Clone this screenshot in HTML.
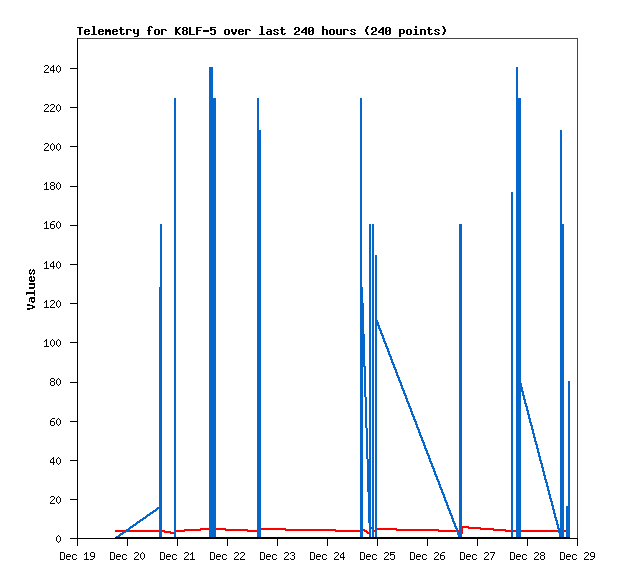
<!DOCTYPE html>
<html><head><meta charset="utf-8"><title>Telemetry for K8LF-5</title><style>html,body{margin:0;padding:0;background:#fff;font-family:"Liberation Sans",sans-serif}svg{display:block}</style></head><body><svg width="618" height="579" viewBox="0 0 618 579" shape-rendering="crispEdges"><rect width="618" height="579" fill="#fff"/><path fill="#ff0000" d="M462 526h7v1h-7zM462 527h19v1h-19zM200 528h26v1h-26zM259 528h27v1h-27zM371 527h1v2h-1zM377 528h20v1h-20zM468 528h26v1h-26zM184 529h64v1h-64zM259 529h77v1h-77zM363 529h2v1h-2zM377 529h62v1h-62zM480 529h26v1h-26zM115 530h50v1h-50zM176 530h25v1h-25zM225 530h34v1h-34zM285 530h82v1h-82zM396 530h64v1h-64zM493 530h73v1h-73zM115 531h56v1h-56zM176 531h9v1h-9zM247 531h12v1h-12zM335 531h28v1h-28zM364 531h4v1h-4zM374 530h1v2h-1zM438 531h22v1h-22zM505 531h61v1h-61zM164 532h12v1h-12zM366 532h3v1h-3zM170 533h6v1h-6zM367 533h2v1h-2zM462 528h1v6h-1z"/><path fill="#0566cc" d="M209 67h4v31h-4zM516 67h2v31h-2zM257 98h2v32h-2zM560 130h2v94h-2zM160 224h2v63h-2zM360 98h2v189h-2zM360 287h3v16h-3zM375 255h2v65h-2zM375 320h3v2h-3zM375 322h4v3h-4zM375 325h5v1h-5zM378 326h2v2h-2zM378 328h3v1h-3zM379 329h2v1h-2zM379 330h3v1h-3zM380 331h2v2h-2zM360 303h4v31h-4zM380 333h3v1h-3zM381 334h2v1h-2zM381 335h3v1h-3zM382 336h2v2h-2zM382 338h3v1h-3zM383 339h2v2h-2zM383 341h3v1h-3zM384 342h2v1h-2zM384 343h3v1h-3zM385 344h2v2h-2zM385 346h3v1h-3zM386 347h2v1h-2zM386 348h3v1h-3zM387 349h2v2h-2zM387 351h3v1h-3zM388 352h2v2h-2zM388 354h3v1h-3zM389 355h2v1h-2zM389 356h3v1h-3zM390 357h2v2h-2zM390 359h3v1h-3zM391 360h2v2h-2zM391 362h3v1h-3zM392 363h2v1h-2zM392 364h3v1h-3zM360 334h5v32h-5zM360 366h6v1h-6zM393 365h2v2h-2zM393 367h3v1h-3zM394 368h2v1h-2zM394 369h3v1h-3zM395 370h2v2h-2zM395 372h3v1h-3zM396 373h2v2h-2zM396 375h3v1h-3zM397 376h2v1h-2zM397 377h3v1h-3zM398 378h2v2h-2zM398 380h3v1h-3zM399 381h2v1h-2zM399 382h3v1h-3zM516 98h5v285h-5zM400 383h2v2h-2zM400 385h3v1h-3zM516 383h6v4h-6zM401 386h2v2h-2zM401 388h3v1h-3zM402 389h2v1h-2zM402 390h3v1h-3zM516 387h7v4h-7zM516 391h8v1h-8zM403 391h2v2h-2zM403 393h3v1h-3zM404 394h2v1h-2zM522 392h2v3h-2zM404 395h3v1h-3zM522 395h3v1h-3zM364 367h2v30h-2zM405 396h2v2h-2zM405 398h3v1h-3zM523 396h2v3h-2zM523 399h3v1h-3zM406 399h2v2h-2zM406 401h3v1h-3zM407 402h2v1h-2zM524 400h2v3h-2zM407 403h3v1h-3zM524 403h3v1h-3zM408 404h2v2h-2zM525 404h2v2h-2zM408 406h3v1h-3zM525 406h3v1h-3zM409 407h2v1h-2zM409 408h3v1h-3zM526 407h2v3h-2zM410 409h2v2h-2zM526 410h3v1h-3zM410 411h3v1h-3zM411 412h2v2h-2zM527 411h2v3h-2zM411 414h3v1h-3zM527 414h3v1h-3zM412 415h2v1h-2zM412 416h3v1h-3zM528 415h2v3h-2zM413 417h2v2h-2zM528 418h3v1h-3zM413 419h3v1h-3zM414 420h2v1h-2zM414 421h3v1h-3zM529 419h2v3h-2zM529 422h3v1h-3zM415 422h2v2h-2zM415 424h3v1h-3zM530 423h2v2h-2zM530 425h3v1h-3zM416 425h2v2h-2zM365 397h2v31h-2zM416 427h3v1h-3zM417 428h2v1h-2zM531 426h2v3h-2zM417 429h3v1h-3zM531 429h3v1h-3zM418 430h2v2h-2zM418 432h3v1h-3zM532 430h2v3h-2zM532 433h3v1h-3zM419 433h2v2h-2zM419 435h3v1h-3zM420 436h2v1h-2zM533 434h2v3h-2zM420 437h3v1h-3zM533 437h3v1h-3zM421 438h2v2h-2zM421 440h3v1h-3zM534 438h2v3h-2zM422 441h2v1h-2zM534 441h3v1h-3zM422 442h3v1h-3zM535 442h2v2h-2zM423 443h2v2h-2zM535 444h3v1h-3zM423 445h3v1h-3zM424 446h2v2h-2zM536 445h2v3h-2zM424 448h3v1h-3zM536 448h3v1h-3zM425 449h2v1h-2zM425 450h3v1h-3zM537 449h2v3h-2zM426 451h2v2h-2zM537 452h3v1h-3zM426 453h3v1h-3zM427 454h2v1h-2zM427 455h3v1h-3zM538 453h2v3h-2zM538 456h3v1h-3zM428 456h2v2h-2zM366 428h2v31h-2zM369 224h2v235h-2zM428 458h3v1h-3zM539 457h2v3h-2zM429 459h2v2h-2zM539 460h3v1h-3zM429 461h3v1h-3zM430 462h2v1h-2zM540 461h2v2h-2zM430 463h3v1h-3zM540 463h3v1h-3zM431 464h2v2h-2zM431 466h3v1h-3zM541 464h2v3h-2zM432 467h2v1h-2zM541 467h3v1h-3zM432 468h3v1h-3zM433 469h2v2h-2zM542 468h2v3h-2zM433 471h3v1h-3zM542 471h3v1h-3zM434 472h2v2h-2zM434 474h3v1h-3zM543 472h2v3h-2zM435 475h2v1h-2zM543 475h3v1h-3zM435 476h3v1h-3zM436 477h2v2h-2zM544 476h2v3h-2zM436 479h3v1h-3zM544 479h3v1h-3zM437 480h2v1h-2zM437 481h3v1h-3zM545 480h2v2h-2zM545 482h3v1h-3zM438 482h2v2h-2zM438 484h3v1h-3zM546 483h2v3h-2zM439 485h2v2h-2zM546 486h3v1h-3zM439 487h3v1h-3zM440 488h2v1h-2zM440 489h3v1h-3zM547 487h2v3h-2zM547 490h3v1h-3zM367 459h4v33h-4zM441 490h2v2h-2zM441 492h3v1h-3zM442 493h2v1h-2zM548 491h2v3h-2zM442 494h3v1h-3zM548 494h3v1h-3zM443 495h2v2h-2zM443 497h3v1h-3zM549 495h2v3h-2zM549 498h3v1h-3zM444 498h2v2h-2zM444 500h3v1h-3zM550 499h2v2h-2zM445 501h2v1h-2zM550 501h3v1h-3zM445 502h3v1h-3zM446 503h2v2h-2zM551 502h2v3h-2zM446 505h3v1h-3zM551 505h3v1h-3zM568 381h2v125h-2zM159 287h3v220h-3zM157 507h5v1h-5zM447 506h2v2h-2zM156 508h6v1h-6zM447 508h3v1h-3zM552 506h2v3h-2zM155 509h3v1h-3zM448 509h2v1h-2zM552 509h3v1h-3zM153 510h4v1h-4zM448 510h3v1h-3zM152 511h4v1h-4zM150 512h4v1h-4zM449 511h2v2h-2zM553 510h2v3h-2zM149 513h4v1h-4zM449 513h3v1h-3zM553 513h3v1h-3zM147 514h4v1h-4zM450 514h2v1h-2zM146 515h4v1h-4zM450 515h3v1h-3zM145 516h3v1h-3zM554 514h2v3h-2zM143 517h4v1h-4zM451 516h2v2h-2zM554 517h3v1h-3zM142 518h4v1h-4zM451 518h3v1h-3zM140 519h4v1h-4zM555 518h2v2h-2zM139 520h4v1h-4zM452 519h2v2h-2zM555 520h3v1h-3zM137 521h4v1h-4zM452 521h3v1h-3zM136 522h4v1h-4zM368 492h3v31h-3zM453 522h2v1h-2zM135 523h3v1h-3zM453 523h3v1h-3zM556 521h2v3h-2zM133 524h4v1h-4zM556 524h3v1h-3zM132 525h4v1h-4zM454 524h2v2h-2zM130 526h4v1h-4zM454 526h3v1h-3zM129 527h4v1h-4zM455 527h2v1h-2zM557 525h2v3h-2zM560 224h4v304h-4zM128 528h3v1h-3zM455 528h3v1h-3zM557 528h7v1h-7zM126 529h4v1h-4zM125 530h4v1h-4zM456 529h2v2h-2zM459 224h3v307h-3zM123 531h4v1h-4zM456 531h6v1h-6zM122 532h4v1h-4zM558 529h6v4h-6zM120 533h4v1h-4zM119 534h4v1h-4zM457 532h5v3h-5zM118 535h3v1h-3zM116 536h4v1h-4zM159 509h3v28h-3zM174 98h2v439h-2zM209 98h7v439h-7zM257 130h4v407h-4zM360 367h3v170h-3zM369 523h2v14h-2zM372 224h2v313h-2zM375 326h2v211h-2zM458 535h4v2h-4zM511 192h2v345h-2zM516 392h5v145h-5zM559 533h5v4h-5zM566 506h4v31h-4z"/><path fill="#000000" d="M115 537h455v2h-455z"/><path fill="#444444" d="M78 38h500v1h-500zM577 39h1v500h-1z"/><path fill="#000000" d="M77 38h1v30h-1zM70 68h8v1h-8zM77 69h1v38h-1zM70 107h8v1h-8zM77 108h1v38h-1zM70 146h8v1h-8zM77 147h1v39h-1zM70 186h8v1h-8zM77 187h1v38h-1zM70 225h8v1h-8zM77 226h1v38h-1zM70 264h8v1h-8zM77 265h1v38h-1zM70 303h8v1h-8zM77 304h1v38h-1zM70 342h8v1h-8zM77 343h1v39h-1zM70 382h8v1h-8zM77 383h1v38h-1zM70 421h8v1h-8zM77 422h1v38h-1zM70 460h8v1h-8zM77 461h1v38h-1zM70 499h8v1h-8zM77 500h1v38h-1zM70 538h508v1h-508zM77 539h1v7h-1zM127 539h1v7h-1zM177 539h1v7h-1zM227 539h1v7h-1zM277 539h1v7h-1zM327 539h1v7h-1zM377 539h1v7h-1zM427 539h1v7h-1zM477 539h1v7h-1zM527 539h1v7h-1zM577 539h1v7h-1z"/><path fill="#000000" d="M92 26h3v1h-3zM149 26h3v1h-3zM260 26h3v1h-3zM367 26h2v1h-2zM442 26h2v1h-2zM77 27h6v1h-6zM151 27h2v1h-2zM179 27h2v1h-2zM183 27h4v1h-4zM196 27h6v1h-6zM210 27h6v1h-6zM295 27h4v1h-4zM305 27h2v1h-2zM309 27h4v1h-4zM372 27h4v1h-4zM382 27h2v1h-2zM386 27h4v1h-4zM415 26h2v2h-2zM120 27h2v2h-2zM175 27h2v2h-2zM178 28h2v1h-2zM210 28h2v1h-2zM281 27h2v2h-2zM304 28h3v1h-3zM322 26h2v3h-2zM366 27h2v2h-2zM381 28h3v1h-3zM428 27h2v2h-2zM443 27h2v2h-2zM85 29h4v1h-4zM99 29h4v1h-4zM105 29h2v1h-2zM108 29h2v1h-2zM113 29h4v1h-4zM119 29h5v1h-5zM126 29h5v1h-5zM148 27h2v3h-2zM155 29h4v1h-4zM161 29h5v1h-5zM175 29h4v1h-4zM182 28h2v2h-2zM186 28h2v2h-2zM196 28h2v2h-2zM210 29h5v1h-5zM225 29h4v1h-4zM239 29h4v1h-4zM245 29h5v1h-5zM267 29h4v1h-4zM274 29h4v1h-4zM280 29h5v1h-5zM294 28h2v2h-2zM303 29h4v1h-4zM312 28h2v2h-2zM322 29h5v1h-5zM330 29h4v1h-4zM343 29h5v1h-5zM351 29h4v1h-4zM371 28h2v2h-2zM380 29h4v1h-4zM389 28h2v2h-2zM399 29h5v1h-5zM407 29h4v1h-4zM414 29h3v1h-3zM420 29h5v1h-5zM427 29h5v1h-5zM435 29h4v1h-4zM84 30h2v1h-2zM88 30h2v1h-2zM98 30h2v1h-2zM102 30h2v1h-2zM112 30h2v1h-2zM116 30h2v1h-2zM130 30h2v1h-2zM147 30h4v1h-4zM165 30h2v1h-2zM183 30h4v1h-4zM196 30h5v1h-5zM210 30h2v1h-2zM238 30h2v1h-2zM242 30h2v1h-2zM249 30h2v1h-2zM270 30h2v1h-2zM273 30h2v1h-2zM277 30h2v1h-2zM298 28h2v3h-2zM302 30h2v1h-2zM308 28h2v3h-2zM311 30h3v1h-3zM347 30h2v1h-2zM350 30h2v1h-2zM354 30h2v1h-2zM375 28h2v3h-2zM379 30h2v1h-2zM385 28h2v3h-2zM388 30h3v1h-3zM434 30h2v1h-2zM438 30h2v1h-2zM84 31h6v1h-6zM98 31h6v1h-6zM105 30h6v2h-6zM112 31h6v1h-6zM175 30h3v2h-3zM203 30h6v2h-6zM231 29h2v3h-2zM235 29h2v3h-2zM238 31h6v1h-6zM267 31h5v1h-5zM274 31h2v1h-2zM296 31h3v1h-3zM301 31h2v1h-2zM305 30h2v2h-2zM308 31h3v1h-3zM351 31h2v1h-2zM365 29h2v3h-2zM373 31h3v1h-3zM378 31h2v1h-2zM382 30h2v2h-2zM385 31h3v1h-3zM435 31h2v1h-2zM444 29h2v3h-2zM133 29h2v4h-2zM137 29h2v4h-2zM175 32h4v1h-4zM276 32h2v1h-2zM295 32h2v1h-2zM301 32h6v1h-6zM353 32h2v1h-2zM372 32h2v1h-2zM378 32h6v1h-6zM399 30h2v3h-2zM403 30h2v3h-2zM437 32h2v1h-2zM84 32h2v2h-2zM88 33h2v1h-2zM93 27h2v7h-2zM98 32h2v2h-2zM102 33h2v1h-2zM112 32h2v2h-2zM116 33h2v1h-2zM120 30h2v4h-2zM123 33h2v1h-2zM134 33h5v1h-5zM154 30h2v4h-2zM158 30h2v4h-2zM178 33h2v1h-2zM182 31h2v3h-2zM186 31h2v3h-2zM189 27h2v7h-2zM210 33h2v1h-2zM214 30h2v4h-2zM224 30h2v4h-2zM228 30h2v4h-2zM232 32h4v2h-4zM238 32h2v2h-2zM242 33h2v1h-2zM261 27h2v7h-2zM266 32h2v2h-2zM270 32h2v2h-2zM273 33h2v1h-2zM277 33h2v1h-2zM281 30h2v4h-2zM284 33h2v1h-2zM294 33h2v1h-2zM308 32h2v2h-2zM312 31h2v3h-2zM329 30h2v4h-2zM333 30h2v4h-2zM336 29h2v5h-2zM340 29h2v5h-2zM350 33h2v1h-2zM354 33h2v1h-2zM366 32h2v2h-2zM371 33h2v1h-2zM385 32h2v2h-2zM389 31h2v3h-2zM399 33h5v1h-5zM406 30h2v4h-2zM410 30h2v4h-2zM415 30h2v4h-2zM428 30h2v4h-2zM431 33h2v1h-2zM434 33h2v1h-2zM438 33h2v1h-2zM443 32h2v2h-2zM79 28h2v7h-2zM85 34h4v1h-4zM91 34h6v1h-6zM99 34h4v1h-4zM105 32h2v3h-2zM109 32h2v3h-2zM113 34h4v1h-4zM121 34h3v1h-3zM126 30h2v5h-2zM148 31h2v4h-2zM155 34h4v1h-4zM161 30h2v5h-2zM175 33h2v2h-2zM179 34h2v1h-2zM183 34h4v1h-4zM189 34h6v1h-6zM196 31h2v4h-2zM211 34h4v1h-4zM225 34h4v1h-4zM233 34h2v1h-2zM239 34h4v1h-4zM245 30h2v5h-2zM259 34h6v1h-6zM267 34h5v1h-5zM274 34h4v1h-4zM282 34h3v1h-3zM294 34h6v1h-6zM305 33h2v2h-2zM309 34h4v1h-4zM322 30h2v5h-2zM326 30h2v5h-2zM330 34h4v1h-4zM337 34h5v1h-5zM343 30h2v5h-2zM351 34h4v1h-4zM367 34h2v1h-2zM371 34h6v1h-6zM382 33h2v2h-2zM386 34h4v1h-4zM407 34h4v1h-4zM413 34h6v1h-6zM420 30h2v5h-2zM424 30h2v5h-2zM429 34h3v1h-3zM435 34h4v1h-4zM442 34h2v1h-2zM137 34h2v2h-2zM134 36h4v1h-4zM399 34h2v3h-2zM45 65h3v1h-3zM53 65h1v1h-1zM58 65h1v1h-1zM44 66h1v1h-1zM52 66h2v1h-2zM57 66h1v1h-1zM59 66h1v1h-1zM48 66h1v2h-1zM51 67h1v1h-1zM47 68h1v1h-1zM46 69h1v1h-1zM50 68h1v2h-1zM53 67h1v3h-1zM45 70h1v1h-1zM50 70h5v1h-5zM56 67h1v4h-1zM60 67h1v4h-1zM44 71h1v1h-1zM57 71h1v1h-1zM59 71h1v1h-1zM44 72h5v1h-5zM53 71h1v2h-1zM58 72h1v1h-1zM45 104h3v1h-3zM51 104h3v1h-3zM58 104h1v1h-1zM44 105h1v1h-1zM50 105h1v1h-1zM57 105h1v1h-1zM59 105h1v1h-1zM48 105h1v2h-1zM54 105h1v2h-1zM47 107h1v1h-1zM53 107h1v1h-1zM46 108h1v1h-1zM52 108h1v1h-1zM45 109h1v1h-1zM51 109h1v1h-1zM56 106h1v4h-1zM60 106h1v4h-1zM44 110h1v1h-1zM50 110h1v1h-1zM57 110h1v1h-1zM59 110h1v1h-1zM44 111h5v1h-5zM50 111h5v1h-5zM58 111h1v1h-1zM45 143h3v1h-3zM52 143h1v1h-1zM58 143h1v1h-1zM44 144h1v1h-1zM51 144h1v1h-1zM53 144h1v1h-1zM57 144h1v1h-1zM59 144h1v1h-1zM48 144h1v2h-1zM47 146h1v1h-1zM46 147h1v1h-1zM45 148h1v1h-1zM50 145h1v4h-1zM54 145h1v4h-1zM56 145h1v4h-1zM60 145h1v4h-1zM44 149h1v1h-1zM51 149h1v1h-1zM53 149h1v1h-1zM57 149h1v1h-1zM59 149h1v1h-1zM44 150h5v1h-5zM52 150h1v1h-1zM58 150h1v1h-1zM46 182h1v1h-1zM51 182h3v1h-3zM58 182h1v1h-1zM45 183h2v1h-2zM57 183h1v1h-1zM59 183h1v1h-1zM44 184h1v1h-1zM50 183h1v2h-1zM54 183h1v2h-1zM51 185h3v1h-3zM56 184h1v4h-1zM60 184h1v4h-1zM46 184h1v5h-1zM50 186h1v3h-1zM54 186h1v3h-1zM57 188h1v1h-1zM59 188h1v1h-1zM44 189h5v1h-5zM51 189h3v1h-3zM58 189h1v1h-1zM46 221h1v1h-1zM52 221h3v1h-3zM58 221h1v1h-1zM45 222h2v1h-2zM51 222h1v1h-1zM57 222h1v1h-1zM59 222h1v1h-1zM44 223h1v1h-1zM50 223h1v1h-1zM50 224h4v1h-4zM56 223h1v4h-1zM60 223h1v4h-1zM46 223h1v5h-1zM50 225h1v3h-1zM54 225h1v3h-1zM57 227h1v1h-1zM59 227h1v1h-1zM44 228h5v1h-5zM51 228h3v1h-3zM58 228h1v1h-1zM46 261h1v1h-1zM53 261h1v1h-1zM58 261h1v1h-1zM45 262h2v1h-2zM52 262h2v1h-2zM57 262h1v1h-1zM59 262h1v1h-1zM44 263h1v1h-1zM51 263h1v1h-1zM50 264h1v2h-1zM53 263h1v3h-1zM50 266h5v1h-5zM56 263h1v4h-1zM60 263h1v4h-1zM46 263h1v5h-1zM57 267h1v1h-1zM59 267h1v1h-1zM44 268h5v1h-5zM53 267h1v2h-1zM58 268h1v1h-1zM30 269h1v1h-1zM33 269h1v1h-1zM29 270h2v1h-2zM32 270h3v1h-3zM32 271h1v1h-1zM29 271h1v2h-1zM31 272h1v1h-1zM34 271h1v2h-1zM29 273h3v1h-3zM33 273h2v1h-2zM30 274h1v1h-1zM33 274h1v1h-1zM30 276h2v1h-2zM33 276h1v1h-1zM29 277h3v1h-3zM33 277h2v1h-2zM29 278h1v2h-1zM31 278h1v2h-1zM34 278h1v2h-1zM29 280h6v1h-6zM30 281h4v1h-4zM29 283h6v2h-6zM34 285h1v2h-1zM29 287h6v1h-6zM29 288h5v1h-5zM34 290h1v2h-1zM26 292h9v2h-9zM26 294h1v1h-1zM34 294h1v2h-1zM30 297h5v1h-5zM29 298h6v1h-6zM31 299h1v2h-1zM34 299h1v2h-1zM46 300h1v1h-1zM51 300h3v1h-3zM58 300h1v1h-1zM29 299h1v3h-1zM31 301h4v1h-4zM45 301h2v1h-2zM50 301h1v1h-1zM57 301h1v1h-1zM59 301h1v1h-1zM32 302h2v1h-2zM44 302h1v1h-1zM54 301h1v2h-1zM53 303h1v1h-1zM27 304h3v1h-3zM52 304h1v1h-1zM27 305h6v1h-6zM51 305h1v1h-1zM56 302h1v4h-1zM60 302h1v4h-1zM46 302h1v5h-1zM50 306h1v1h-1zM57 306h1v1h-1zM59 306h1v1h-1zM32 306h3v2h-3zM44 307h5v1h-5zM50 307h5v1h-5zM58 307h1v1h-1zM27 308h6v1h-6zM27 309h3v1h-3zM46 339h1v1h-1zM52 339h1v1h-1zM58 339h1v1h-1zM45 340h2v1h-2zM51 340h1v1h-1zM53 340h1v1h-1zM57 340h1v1h-1zM59 340h1v1h-1zM44 341h1v1h-1zM50 341h1v4h-1zM54 341h1v4h-1zM56 341h1v4h-1zM60 341h1v4h-1zM46 341h1v5h-1zM51 345h1v1h-1zM53 345h1v1h-1zM57 345h1v1h-1zM59 345h1v1h-1zM44 346h5v1h-5zM52 346h1v1h-1zM58 346h1v1h-1zM51 378h3v1h-3zM58 378h1v1h-1zM57 379h1v1h-1zM59 379h1v1h-1zM50 379h1v2h-1zM54 379h1v2h-1zM51 381h3v1h-3zM56 380h1v4h-1zM60 380h1v4h-1zM50 382h1v3h-1zM54 382h1v3h-1zM57 384h1v1h-1zM59 384h1v1h-1zM51 385h3v1h-3zM58 385h1v1h-1zM52 418h3v1h-3zM58 418h1v1h-1zM51 419h1v1h-1zM57 419h1v1h-1zM59 419h1v1h-1zM50 420h1v1h-1zM50 421h4v1h-4zM56 420h1v4h-1zM60 420h1v4h-1zM50 422h1v3h-1zM54 422h1v3h-1zM57 424h1v1h-1zM59 424h1v1h-1zM51 425h3v1h-3zM58 425h1v1h-1zM53 457h1v1h-1zM58 457h1v1h-1zM52 458h2v1h-2zM57 458h1v1h-1zM59 458h1v1h-1zM51 459h1v1h-1zM50 460h1v2h-1zM53 459h1v3h-1zM50 462h5v1h-5zM56 459h1v4h-1zM60 459h1v4h-1zM57 463h1v1h-1zM59 463h1v1h-1zM53 463h1v2h-1zM58 464h1v1h-1zM51 496h3v1h-3zM58 496h1v1h-1zM50 497h1v1h-1zM57 497h1v1h-1zM59 497h1v1h-1zM54 497h1v2h-1zM53 499h1v1h-1zM52 500h1v1h-1zM51 501h1v1h-1zM56 498h1v4h-1zM60 498h1v4h-1zM50 502h1v1h-1zM57 502h1v1h-1zM59 502h1v1h-1zM50 503h5v1h-5zM58 503h1v1h-1zM58 535h1v1h-1zM57 536h1v1h-1zM59 536h1v1h-1zM56 537h1v4h-1zM60 537h1v4h-1zM57 541h1v1h-1zM59 541h1v1h-1zM58 542h1v1h-1zM60 552h4v1h-4zM86 552h1v1h-1zM91 552h3v1h-3zM110 552h4v1h-4zM135 552h3v1h-3zM142 552h1v1h-1zM160 552h4v1h-4zM185 552h3v1h-3zM192 552h1v1h-1zM210 552h4v1h-4zM235 552h3v1h-3zM241 552h3v1h-3zM260 552h4v1h-4zM285 552h3v1h-3zM291 552h3v1h-3zM310 552h4v1h-4zM335 552h3v1h-3zM343 552h1v1h-1zM360 552h4v1h-4zM385 552h3v1h-3zM390 552h5v1h-5zM410 552h4v1h-4zM435 552h3v1h-3zM442 552h3v1h-3zM460 552h4v1h-4zM485 552h3v1h-3zM490 552h5v1h-5zM510 552h4v1h-4zM535 552h3v1h-3zM541 552h3v1h-3zM560 552h4v1h-4zM585 552h3v1h-3zM591 552h3v1h-3zM85 553h2v1h-2zM134 553h1v1h-1zM141 553h1v1h-1zM143 553h1v1h-1zM184 553h1v1h-1zM191 553h2v1h-2zM234 553h1v1h-1zM240 553h1v1h-1zM284 553h1v1h-1zM290 553h1v1h-1zM334 553h1v1h-1zM342 553h2v1h-2zM384 553h1v1h-1zM390 553h1v1h-1zM434 553h1v1h-1zM441 553h1v1h-1zM484 553h1v1h-1zM494 553h1v1h-1zM534 553h1v1h-1zM584 553h1v1h-1zM67 554h3v1h-3zM73 554h3v1h-3zM84 554h1v1h-1zM117 554h3v1h-3zM123 554h3v1h-3zM138 553h1v2h-1zM167 554h3v1h-3zM173 554h3v1h-3zM188 553h1v2h-1zM190 554h1v1h-1zM217 554h3v1h-3zM223 554h3v1h-3zM238 553h1v2h-1zM244 553h1v2h-1zM267 554h3v1h-3zM273 554h3v1h-3zM288 553h1v2h-1zM294 553h1v2h-1zM317 554h3v1h-3zM323 554h3v1h-3zM338 553h1v2h-1zM341 554h1v1h-1zM367 554h3v1h-3zM373 554h3v1h-3zM388 553h1v2h-1zM390 554h4v1h-4zM417 554h3v1h-3zM423 554h3v1h-3zM438 553h1v2h-1zM440 554h1v1h-1zM467 554h3v1h-3zM473 554h3v1h-3zM488 553h1v2h-1zM517 554h3v1h-3zM523 554h3v1h-3zM538 553h1v2h-1zM540 553h1v2h-1zM544 553h1v2h-1zM567 554h3v1h-3zM573 554h3v1h-3zM588 553h1v2h-1zM66 555h1v1h-1zM70 555h1v1h-1zM76 555h1v1h-1zM90 553h1v3h-1zM94 553h1v3h-1zM116 555h1v1h-1zM120 555h1v1h-1zM126 555h1v1h-1zM137 555h1v1h-1zM166 555h1v1h-1zM170 555h1v1h-1zM176 555h1v1h-1zM187 555h1v1h-1zM216 555h1v1h-1zM220 555h1v1h-1zM226 555h1v1h-1zM237 555h1v1h-1zM243 555h1v1h-1zM266 555h1v1h-1zM270 555h1v1h-1zM276 555h1v1h-1zM287 555h1v1h-1zM292 555h2v1h-2zM316 555h1v1h-1zM320 555h1v1h-1zM326 555h1v1h-1zM337 555h1v1h-1zM366 555h1v1h-1zM370 555h1v1h-1zM376 555h1v1h-1zM387 555h1v1h-1zM390 555h1v1h-1zM416 555h1v1h-1zM420 555h1v1h-1zM426 555h1v1h-1zM437 555h1v1h-1zM440 555h4v1h-4zM466 555h1v1h-1zM470 555h1v1h-1zM476 555h1v1h-1zM487 555h1v1h-1zM493 554h1v2h-1zM516 555h1v1h-1zM520 555h1v1h-1zM526 555h1v1h-1zM537 555h1v1h-1zM541 555h3v1h-3zM566 555h1v1h-1zM570 555h1v1h-1zM576 555h1v1h-1zM587 555h1v1h-1zM590 553h1v3h-1zM594 553h1v3h-1zM66 556h5v1h-5zM91 556h4v1h-4zM116 556h5v1h-5zM136 556h1v1h-1zM166 556h5v1h-5zM186 556h1v1h-1zM216 556h5v1h-5zM236 556h1v1h-1zM242 556h1v1h-1zM266 556h5v1h-5zM286 556h1v1h-1zM316 556h5v1h-5zM336 556h1v1h-1zM340 555h1v2h-1zM343 554h1v3h-1zM366 556h5v1h-5zM386 556h1v1h-1zM416 556h5v1h-5zM436 556h1v1h-1zM466 556h5v1h-5zM486 556h1v1h-1zM516 556h5v1h-5zM536 556h1v1h-1zM566 556h5v1h-5zM586 556h1v1h-1zM591 556h4v1h-4zM94 557h1v1h-1zM135 557h1v1h-1zM140 554h1v4h-1zM144 554h1v4h-1zM185 557h1v1h-1zM235 557h1v1h-1zM241 557h1v1h-1zM285 557h1v1h-1zM335 557h1v1h-1zM340 557h5v1h-5zM385 557h1v1h-1zM435 557h1v1h-1zM485 557h1v1h-1zM492 556h1v2h-1zM535 557h1v1h-1zM585 557h1v1h-1zM594 557h1v1h-1zM60 553h1v6h-1zM64 553h1v6h-1zM66 557h1v2h-1zM72 555h1v4h-1zM76 558h1v1h-1zM86 554h1v5h-1zM93 558h1v1h-1zM110 553h1v6h-1zM114 553h1v6h-1zM116 557h1v2h-1zM122 555h1v4h-1zM126 558h1v1h-1zM134 558h1v1h-1zM141 558h1v1h-1zM143 558h1v1h-1zM160 553h1v6h-1zM164 553h1v6h-1zM166 557h1v2h-1zM172 555h1v4h-1zM176 558h1v1h-1zM184 558h1v1h-1zM192 554h1v5h-1zM210 553h1v6h-1zM214 553h1v6h-1zM216 557h1v2h-1zM222 555h1v4h-1zM226 558h1v1h-1zM234 558h1v1h-1zM240 558h1v1h-1zM260 553h1v6h-1zM264 553h1v6h-1zM266 557h1v2h-1zM272 555h1v4h-1zM276 558h1v1h-1zM284 558h1v1h-1zM290 558h1v1h-1zM294 556h1v3h-1zM310 553h1v6h-1zM314 553h1v6h-1zM316 557h1v2h-1zM322 555h1v4h-1zM326 558h1v1h-1zM334 558h1v1h-1zM360 553h1v6h-1zM364 553h1v6h-1zM366 557h1v2h-1zM372 555h1v4h-1zM376 558h1v1h-1zM384 558h1v1h-1zM390 558h1v1h-1zM394 555h1v4h-1zM410 553h1v6h-1zM414 553h1v6h-1zM416 557h1v2h-1zM422 555h1v4h-1zM426 558h1v1h-1zM434 558h1v1h-1zM440 556h1v3h-1zM444 556h1v3h-1zM460 553h1v6h-1zM464 553h1v6h-1zM466 557h1v2h-1zM472 555h1v4h-1zM476 558h1v1h-1zM484 558h1v1h-1zM510 553h1v6h-1zM514 553h1v6h-1zM516 557h1v2h-1zM522 555h1v4h-1zM526 558h1v1h-1zM534 558h1v1h-1zM540 556h1v3h-1zM544 556h1v3h-1zM560 553h1v6h-1zM564 553h1v6h-1zM566 557h1v2h-1zM572 555h1v4h-1zM576 558h1v1h-1zM584 558h1v1h-1zM593 558h1v1h-1zM60 559h4v1h-4zM67 559h3v1h-3zM73 559h3v1h-3zM84 559h5v1h-5zM90 559h3v1h-3zM110 559h4v1h-4zM117 559h3v1h-3zM123 559h3v1h-3zM134 559h5v1h-5zM142 559h1v1h-1zM160 559h4v1h-4zM167 559h3v1h-3zM173 559h3v1h-3zM184 559h5v1h-5zM190 559h5v1h-5zM210 559h4v1h-4zM217 559h3v1h-3zM223 559h3v1h-3zM234 559h5v1h-5zM240 559h5v1h-5zM260 559h4v1h-4zM267 559h3v1h-3zM273 559h3v1h-3zM284 559h5v1h-5zM291 559h3v1h-3zM310 559h4v1h-4zM317 559h3v1h-3zM323 559h3v1h-3zM334 559h5v1h-5zM343 558h1v2h-1zM360 559h4v1h-4zM367 559h3v1h-3zM373 559h3v1h-3zM384 559h5v1h-5zM391 559h3v1h-3zM410 559h4v1h-4zM417 559h3v1h-3zM423 559h3v1h-3zM434 559h5v1h-5zM441 559h3v1h-3zM460 559h4v1h-4zM467 559h3v1h-3zM473 559h3v1h-3zM484 559h5v1h-5zM491 558h1v2h-1zM510 559h4v1h-4zM517 559h3v1h-3zM523 559h3v1h-3zM534 559h5v1h-5zM541 559h3v1h-3zM560 559h4v1h-4zM567 559h3v1h-3zM573 559h3v1h-3zM584 559h5v1h-5zM590 559h3v1h-3z"/></svg></body></html>
